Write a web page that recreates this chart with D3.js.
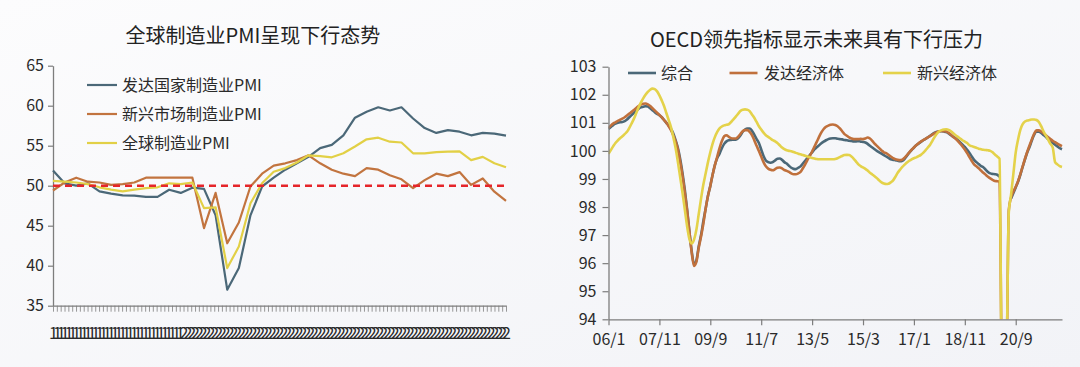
<!DOCTYPE html>
<html><head><meta charset="utf-8">
<script src="https://cdn.jsdelivr.net/npm/d3@7"></script>
<style>
html,body{margin:0;padding:0;background:#f7f8fa;}
svg{display:block;}
text{font-family:"Noto Sans CJK SC","Noto Sans",sans-serif;}
</style>
</head><body>
<svg id="c" width="1080" height="367"></svg>
<script>
// ---------- LEFT CHART DATA (monthly, 2019-01 .. 2022-04) ----------
const leftTitle = "全球制造业PMI呈现下行态势";
const leftNames = ["发达国家制造业PMI", "新兴市场制造业PMI", "全球制造业PMI"];
const leftMonths = [];
for (let y = 2019; y <= 2022; y++) for (let m = 1; m <= 12; m++) if (leftMonths.length < 40) leftMonths.push(y + "-" + String(m).padStart(2, "0"));
const developedPMI = [51.9, 50.3, 50.0, 50.3, 49.3, 49.0, 48.8, 48.75, 48.6, 48.6, 49.5, 49.1, 49.75, 49.6, 46.3, 37.0, 39.7, 46.3, 49.9, 51.0,
  52.0, 52.8, 53.6, 54.7, 55.1, 56.3, 58.5, 59.25, 59.8, 59.4, 59.8, 58.4, 57.2, 56.6, 56.95, 56.75, 56.3, 56.6, 56.5, 56.25];
const emergingPMI = [49.4, 50.4, 51.0, 50.5, 50.4, 50.1, 50.2, 50.4, 51.0, 51.0, 51.0, 51.0, 51.0, 44.7, 49.1, 42.8, 45.4, 49.9, 51.5, 52.5,
  52.8, 53.2, 53.8, 52.8, 52.0, 51.5, 51.2, 52.2, 52.0, 51.3, 50.8, 49.7, 50.7, 51.5, 51.2, 51.7, 50.1, 50.9, 49.25, 48.1];
const globalPMI = [50.6, 50.5, 50.4, 50.2, 49.8, 49.5, 49.3, 49.5, 49.7, 49.8, 50.3, 50.2, 50.4, 47.2, 47.3, 39.7, 42.4, 47.8, 50.3, 51.75,
  52.2, 52.9, 53.8, 53.7, 53.55, 54.05, 54.9, 55.8, 56.0, 55.5, 55.4, 54.05, 54.05, 54.2, 54.25, 54.3, 53.2, 53.6, 52.8, 52.3];
const leftYTicks = [35, 40, 45, 50, 55, 60, 65];
const leftThreshold = 50;
// crowded tick labels of the original axis (one per tick)
const leftXTickLabels = Array(34).fill("1").concat(Array(85).fill("2"));

// ---------- RIGHT CHART DATA (monthly, 06/1 .. 22/5) ----------
const rightTitle = "OECD领先指标显示未来具有下行压力";
const rightNames = ["综合", "发达经济体", "新兴经济体"];
const rightMonths = [];
for (let y = 2006; y <= 2022; y++) for (let m = 1; m <= 12; m++) if (rightMonths.length < 197) rightMonths.push(String(y % 100).padStart(2, "0") + "/" + m);
const compositeCLI = [
  100.78, 100.85, 100.92, 100.97, 101.0, 101.02, 101.03, 101.06, 101.12, 101.2, 101.28, 101.36,
  101.44, 101.5, 101.55, 101.57, 101.59, 101.58, 101.52, 101.45, 101.38, 101.32, 101.27, 101.2,
  101.1, 101.0, 100.9, 100.78, 100.62, 100.38, 100.1, 99.7, 99.2, 98.6, 97.9, 97.1,
  96.4, 95.95, 96.1, 96.6, 97.0, 97.5, 97.95, 98.4, 98.75, 99.15, 99.5, 99.75,
  99.9, 100.1, 100.25, 100.34, 100.38, 100.39, 100.4, 100.4, 100.45, 100.55, 100.68, 100.76,
  100.8, 100.8, 100.72, 100.58, 100.42, 100.28, 100.05, 99.82, 99.66, 99.6, 99.58, 99.6,
  99.66, 99.72, 99.73, 99.68, 99.6, 99.55, 99.47, 99.4, 99.36, 99.35, 99.4, 99.45,
  99.55, 99.65, 99.75, 99.85, 99.95, 100.05, 100.13, 100.2, 100.27, 100.33, 100.38, 100.42,
  100.44, 100.45, 100.45, 100.43, 100.42, 100.41, 100.39, 100.38, 100.36, 100.35, 100.34, 100.34,
  100.35, 100.33, 100.32, 100.3, 100.25, 100.18, 100.12, 100.06, 100.0, 99.95, 99.9, 99.85,
  99.8, 99.75, 99.7, 99.68, 99.67, 99.65, 99.63, 99.65, 99.72, 99.83, 99.94, 100.03,
  100.12, 100.2, 100.26, 100.32, 100.38, 100.43, 100.48, 100.54, 100.6, 100.65, 100.68, 100.7,
  100.7, 100.69, 100.67, 100.62, 100.56, 100.5, 100.45, 100.38, 100.3, 100.22, 100.14, 100.04,
  99.93, 99.8, 99.68, 99.6, 99.53, 99.46, 99.42, 99.33, 99.25, 99.2, 99.18, 99.17,
  99.15, 99.08, null, null, null, null, 98.3, 98.5, 98.7, 98.9, 99.15, 99.43,
  99.7, 99.95, 100.15, 100.38, 100.58, 100.68, 100.68, 100.64, 100.57, 100.5, 100.42, 100.35,
  100.28, 100.22, 100.16, 100.1, 100.06];
const developedCLI = [
  100.82, 100.9, 100.97, 101.02, 101.07, 101.11, 101.15, 101.2, 101.26, 101.33, 101.39, 101.46,
  101.53, 101.6, 101.65, 101.68, 101.69, 101.66, 101.6, 101.52, 101.44, 101.36, 101.28, 101.2,
  101.1, 101.0, 100.88, 100.74, 100.56, 100.34, 100.05, 99.6, 99.1, 98.5, 97.85, 97.1,
  96.35, 95.9, 96.05, 96.55, 96.95, 97.4, 97.95, 98.4, 98.75, 99.15, 99.5, 99.8,
  100.1, 100.35, 100.52, 100.56, 100.5, 100.45, 100.44, 100.44, 100.5, 100.6, 100.7, 100.74,
  100.74, 100.68, 100.56, 100.38, 100.18, 100.0, 99.8, 99.6, 99.45, 99.37, 99.33, 99.31,
  99.35, 99.4, 99.41, 99.38, 99.32, 99.29, 99.25, 99.2, 99.17, 99.17, 99.2, 99.25,
  99.38, 99.52, 99.68, 99.82, 99.98, 100.15, 100.32, 100.5, 100.66, 100.78, 100.86, 100.9,
  100.93, 100.94, 100.92, 100.88, 100.8, 100.7, 100.6, 100.54, 100.48, 100.44, 100.42, 100.42,
  100.42, 100.43, 100.42, 100.44, 100.48, 100.44, 100.36, 100.26, 100.18, 100.1, 100.02, 99.95,
  99.92, 99.86, 99.8, 99.74, 99.7, 99.68, 99.67, 99.69, 99.76, 99.85, 99.95, 100.04,
  100.12, 100.2, 100.27, 100.33, 100.38, 100.43, 100.48, 100.53, 100.58, 100.63, 100.67, 100.7,
  100.71, 100.7, 100.69, 100.64, 100.58, 100.5, 100.43, 100.35, 100.26, 100.16, 100.05, 99.92,
  99.78, 99.64, 99.52, 99.45, 99.38, 99.3, 99.22, 99.15, 99.08, 99.02, 98.97, 98.93,
  98.92, 98.9, 92.5, 92.0, 92.5, 97.9, 98.35, 98.55, 98.72, 98.92, 99.17, 99.45,
  99.72, 99.97, 100.2, 100.42, 100.62, 100.73, 100.73, 100.69, 100.63, 100.56, 100.49, 100.42,
  100.36, 100.31, 100.26, 100.21, 100.17];
const emergingCLI = [
  99.9, 100.03, 100.16, 100.28, 100.37, 100.45, 100.52, 100.6, 100.68, 100.82, 100.98, 101.15,
  101.35, 101.55, 101.72, 101.87, 102.0, 102.1, 102.18, 102.22, 102.2, 102.12, 101.98, 101.8,
  101.6, 101.35, 101.1, 100.85, 100.5, 100.1, 99.6, 99.05, 98.5, 97.9, 97.3, 96.85,
  96.7, 96.85, 97.2, 97.75, 98.3, 98.8, 99.2, 99.6, 99.95, 100.26, 100.5, 100.68,
  100.8, 100.87, 100.91, 100.93, 100.95, 101.03, 101.12, 101.22, 101.32, 101.42, 101.47, 101.48,
  101.47, 101.42, 101.3, 101.18, 101.03, 100.88, 100.76, 100.65, 100.56, 100.5, 100.44, 100.38,
  100.34, 100.28, 100.2, 100.12, 100.06, 100.02, 100.0, 99.99, 99.96, 99.93, 99.9, 99.88,
  99.85, 99.83, 99.8, 99.77, 99.75, 99.73, 99.71, 99.7, 99.7, 99.7, 99.7, 99.7,
  99.7, 99.7, 99.71, 99.74, 99.78, 99.82, 99.85, 99.86, 99.85, 99.8, 99.72, 99.62,
  99.52, 99.46, 99.41, 99.36, 99.3, 99.22, 99.16, 99.1, 99.03, 98.95, 98.88, 98.84,
  98.82, 98.83, 98.88, 98.95, 99.08, 99.22, 99.33, 99.43, 99.51, 99.59, 99.65, 99.7,
  99.74, 99.77, 99.81, 99.86, 99.93, 100.02, 100.12, 100.22, 100.36, 100.5, 100.62, 100.7,
  100.74, 100.76, 100.77, 100.75, 100.7, 100.63, 100.56, 100.5, 100.44, 100.38, 100.33, 100.28,
  100.2, 100.17, 100.14, 100.11, 100.08, 100.06, 100.04, 100.03, 100.02, 100.0, 99.95, 99.87,
  99.8, 99.72, 92.0, 91.5, 92.5, 97.8, 98.45, 99.2, 99.95, 100.4, 100.75, 100.95,
  101.05, 101.08, 101.1, 101.12, 101.12, 101.1, 101.03, 100.88, 100.7, 100.55, 100.4, 100.25,
  100.12, 99.6, 99.52, 99.46, 99.43];
const rightYTicks = [94, 95, 96, 97, 98, 99, 100, 101, 102, 103];
const rightXTickLabels = ["06/1", "07/11", "09/9", "11/7", "13/5", "15/3", "17/1", "18/11", "20/9"];

// ---------- STYLE ----------
const C_BLUE = "#4b6878", C_ORANGE = "#c2743f", C_YELLOW = "#e2d046", C_RED = "#e5252a";
const TXT = "#2a2a2a", AX = "#7d7d7d";

const svg = d3.select("#c");
const defs = svg.append("defs");
const grad = defs.append("linearGradient").attr("id", "bg").attr("x1", "0").attr("y1", "0").attr("x2", "1").attr("y2", "1");
grad.append("stop").attr("offset", "0").attr("stop-color", "#fcfcfd");
grad.append("stop").attr("offset", "1").attr("stop-color", "#f2f3f7");
svg.append("rect").attr("width", 1080).attr("height", 367).attr("fill", "url(#bg)");

function styleAxis(g) {
  g.select(".domain").attr("stroke", AX).attr("stroke-width", 1.3);
  g.selectAll(".tick line").attr("stroke", AX).attr("stroke-width", 1.2);
  g.selectAll(".tick text").attr("fill", TXT).style("font-size", "16px")
    .style("font-family", '"Noto Sans CJK SC","Noto Sans",sans-serif');
}

// ================= LEFT =================
const L = {x0: 53, x1: 506, yTop: 65.7, yBot: 305.7};
svg.append("text").attr("x", 253).attr("y", 43).attr("text-anchor", "middle")
  .attr("fill", "#222").style("font-size", "20px").text(leftTitle);

const xL = d3.scalePoint().domain(leftMonths).range([L.x0, L.x1]);
const yL = d3.scaleLinear().domain([35, 65]).range([L.yBot, L.yTop]);

const xTickScale = d3.scalePoint().domain(d3.range(leftXTickLabels.length)).range([L.x0, L.x1]);
const gxL = svg.append("g").attr("transform", `translate(0,${L.yBot})`)
  .call(d3.axisBottom(xTickScale).tickSize(6).tickSizeOuter(0).tickPadding(16).tickFormat(i => leftXTickLabels[i]));
styleAxis(gxL);
gxL.selectAll(".tick line").attr("stroke-width", 0.8);

const gyL = svg.append("g").attr("transform", `translate(${L.x0},0)`)
  .call(d3.axisLeft(yL).tickValues(leftYTicks).tickSize(5).tickSizeOuter(0).tickPadding(4));
styleAxis(gyL);

const leftSeries = [
  {name: leftNames[0], values: developedPMI, color: C_BLUE},
  {name: leftNames[1], values: emergingPMI, color: C_ORANGE},
  {name: leftNames[2], values: globalPMI, color: C_YELLOW}
];
const lineL = d3.line().x((d, i) => xL(leftMonths[i])).y(d => yL(d));
leftSeries.forEach(s => {
  svg.append("path").datum(s.values).attr("d", lineL).attr("fill", "none")
    .attr("stroke", s.color).attr("stroke-width", 2.2).attr("stroke-linejoin", "round");
});
svg.append("line").attr("x1", L.x0).attr("x2", L.x1).attr("y1", yL(leftThreshold)).attr("y2", yL(leftThreshold))
  .attr("stroke", C_RED).attr("stroke-width", 2.4).attr("stroke-dasharray", "7,5");

const legL = [85, 114, 143];
leftSeries.forEach((s, i) => {
  svg.append("line").attr("x1", 87).attr("x2", 117).attr("y1", legL[i]).attr("y2", legL[i])
    .attr("stroke", s.color).attr("stroke-width", 2.2);
  svg.append("text").attr("x", 122).attr("y", legL[i] + 6).attr("fill", TXT)
    .style("font-size", "16px").text(s.name);
});

// ================= RIGHT =================
const R = {x0: 608.5, x1: 1062, yTop: 66.7, yBot: 319.3};
svg.append("text").attr("x", 816.5).attr("y", 47).attr("text-anchor", "middle")
  .attr("fill", "#222").style("font-size", "20px").text(rightTitle);

const xR = d3.scalePoint().domain(rightMonths).range([R.x0, R.x1]);
const yR = d3.scaleLinear().domain([94, 103]).range([R.yBot, R.yTop]);

defs.append("clipPath").attr("id", "clipR").append("rect")
  .attr("x", R.x0).attr("y", 40).attr("width", R.x1 - R.x0 + 5).attr("height", R.yBot - 40);

const rightSeries = [
  {name: rightNames[0], values: compositeCLI, color: C_BLUE},
  {name: rightNames[1], values: developedCLI, color: "#c0703c"},
  {name: rightNames[2], values: emergingCLI, color: "#e4d24a"}
];
const lineR = d3.line().defined(d => d !== null)
  .x((d, i) => xR(rightMonths[i])).y(d => yR(d)).curve(d3.curveMonotoneX);
const plotR = svg.append("g").attr("clip-path", "url(#clipR)");
rightSeries.forEach(s => {
  plotR.append("path").datum(s.values).attr("d", lineR).attr("fill", "none")
    .attr("stroke", s.color).attr("stroke-width", 2.6).attr("stroke-linejoin", "round");
});

const gxR = svg.append("g").attr("transform", `translate(0,${R.yBot})`)
  .call(d3.axisBottom(xR).tickValues(rightXTickLabels).tickSize(6).tickSizeOuter(0).tickPadding(8));
styleAxis(gxR);
const gyR = svg.append("g").attr("transform", `translate(${R.x0},0)`)
  .call(d3.axisLeft(yR).tickValues(rightYTicks).tickSize(6).tickSizeOuter(0).tickPadding(6));
styleAxis(gyR);

const legR = [{lx: 628, tx: 661}, {lx: 729.5, tx: 764}, {lx: 883, tx: 917}];
rightSeries.forEach((s, i) => {
  svg.append("line").attr("x1", legR[i].lx).attr("x2", legR[i].lx + 28).attr("y1", 73).attr("y2", 73)
    .attr("stroke", s.color).attr("stroke-width", 2.6);
  svg.append("text").attr("x", legR[i].tx).attr("y", 79).attr("fill", TXT)
    .style("font-size", "16px").text(s.name);
});
</script>
</body></html>
